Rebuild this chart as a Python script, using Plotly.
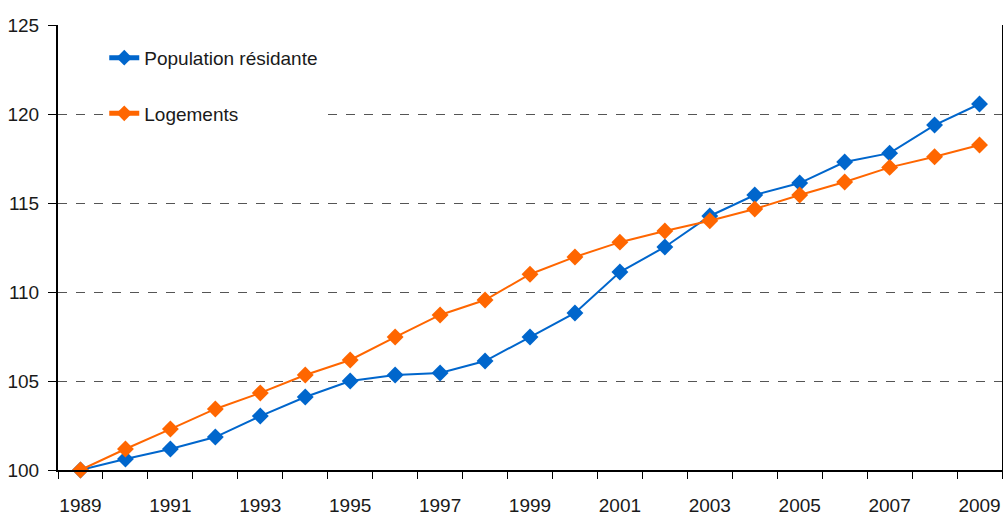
import plotly.graph_objects as go

years = list(range(1989, 2010))
population = [100.0, 100.62, 101.18, 101.85, 103.03, 104.1, 105.0, 105.34, 105.45, 106.12,
              107.47, 108.82, 111.12, 112.53, 114.27, 115.45, 116.12, 117.3, 117.8, 119.38, 120.56]
logements = [100.0, 101.18, 102.3, 103.43, 104.33, 105.34, 106.18, 107.47, 108.71, 109.55,
             111.0, 111.97, 112.8, 113.43, 114.0, 114.66, 115.45, 116.18, 117.0, 117.6, 118.26]
series_names = ["Population résidante", "Logements"]
label_years = list(range(1989, 2010, 2))
y_ticks = [100, 105, 110, 115, 120, 125]

FONT = "Liberation Sans Narrow, Arial Narrow, Liberation Sans, Arial, sans-serif"
colors = ["#0066CC", "#FF6600"]

fig = go.Figure()
for name, vals, col in zip(series_names, [population, logements], colors):
    fig.add_trace(go.Scatter(
        x=years, y=vals, name=name, mode="lines+markers",
        line=dict(color=col, width=2),
        marker=dict(symbol="diamond", size=13, color=col),
        cliponaxis=False, legendgroup=name,
    ))

fig.update_layout(
    width=1003, height=517,
    margin=dict(l=58, r=1, t=25, b=47, autoexpand=False),
    paper_bgcolor="white", plot_bgcolor="white",
    font=dict(family=FONT, size=19, color="#1a1a1a"),
    showlegend=True,
    legend=dict(
        x=0.049, y=0.969, xanchor="left", yanchor="top",
        bgcolor="white", borderwidth=0,
        font=dict(family=FONT, size=19, color="#1a1a1a"),
        tracegroupgap=28, entrywidth=208, entrywidthmode="pixels",
        itemsizing="constant",
    ),
    xaxis=dict(
        range=[1988.5, 2009.5], automargin=False,
        tickvals=label_years, ticktext=[str(y) for y in label_years],
        ticks="", showgrid=False, zeroline=False, ticklabelstandoff=17,
        showline=True, linecolor="#000", linewidth=2,
        minor=dict(tick0=1988.5, dtick=1, ticks="outside", ticklen=7,
                   tickcolor="#000", tickwidth=1, showgrid=False),
        tickfont=dict(family=FONT, size=19),
    ),
    yaxis=dict(
        range=[100, 125], tickvals=y_ticks, automargin=False,
        ticks="outside", ticklen=8, tickcolor="#000", tickwidth=1, ticklabelstandoff=5,
        showgrid=True, gridcolor="#555", griddash="dash", gridwidth=1,
        zeroline=False, showline=True, linecolor="#000", linewidth=2, mirror=True,
        tickfont=dict(family=FONT, size=19),
    ),
)

fig.write_html(
    "out.html",
    config={"displayModeBar": False},
    post_script="document.body.style.margin='0';document.body.style.overflow='hidden';",
)
